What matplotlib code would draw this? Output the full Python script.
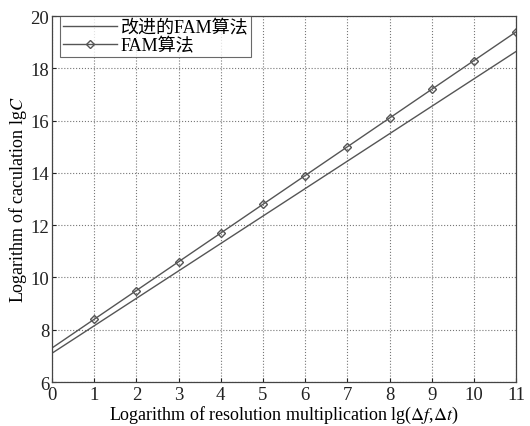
import numpy as np
import matplotlib
matplotlib.use("Agg")
import matplotlib.pyplot as plt

plt.rcParams['font.family'] = ['Liberation Serif', 'Noto Sans CJK SC']
plt.rcParams['mathtext.fontset'] = 'stix'

# data
x = np.arange(0, 12)
fam = [7.3, 8.4, 9.5, 10.6, 11.7, 12.8, 13.9, 15.0, 16.1, 17.2, 18.3, 19.4]
improved = [7.1, 8.15, 9.2, 10.25, 11.3, 12.35, 13.4, 14.45, 15.5, 16.55, 17.6, 18.65]

fig = plt.figure(figsize=(5.3, 4.27), dpi=100)
ax = fig.add_axes([0.098, 0.103, 0.876, 0.857])

ax.plot(x, improved, color='#555555', lw=1.0, label='改进的FAM算法')
ax.plot(x[1:], fam[1:], color='#555555', lw=1.0, ls='none', marker='D', ms=4.5,
        mfc='none', mec='#555555')
ax.plot(x, fam, color='#555555', lw=1.0, label='FAM算法')
# legend handle with marker
handles, labels = ax.get_legend_handles_labels()
h2 = plt.Line2D([], [], color='#555555', lw=1.0, marker='D', ms=4.5, mfc='none', mec='#555555')
leg = ax.legend([handles[0], h2], labels, loc='upper left', fontsize=13,
                frameon=True, fancybox=False, edgecolor='#444444',
                borderpad=0.15, handlelength=3.0, labelspacing=0.05, borderaxespad=0.0,
                handletextpad=0.2, bbox_to_anchor=(0.018, 1.0))
leg.get_frame().set_linewidth(0.8)

ax.set_xlim(0, 11)
ax.set_ylim(6, 20)
ax.set_xticks(range(0, 12))
ax.set_yticks(range(6, 21, 2))
ax.grid(True, ls=':', color='#777777', lw=0.8)
ax.tick_params(direction='in', labelsize=13.5, length=3, colors='#222222')
ax.tick_params(axis='x', pad=3)
ax.tick_params(axis='y', pad=2)
for s in ax.spines.values():
    s.set_color('#444444')
    s.set_linewidth(0.9)

ax.set_xlabel(r'Logarithm of resolution multiplication lg($\Delta f$,$\Delta t$)', fontsize=13, labelpad=0.5)
ax.set_ylabel(r'Logarithm of caculation lg$C$', fontsize=13, labelpad=1)

fig.savefig('out.png', dpi=100)
